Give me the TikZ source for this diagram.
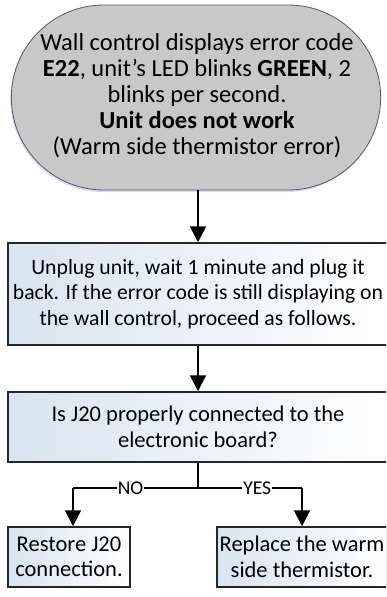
\documentclass[tikz,border=0pt]{standalone}
\usepackage{fontspec}
\setmainfont{Carlito}
\usetikzlibrary{shapes.misc, shadows, arrows.meta}
\definecolor{stadgray}{RGB}{200,200,200}
\definecolor{boxblue}{RGB}{216,228,241}

\begin{document}
\begin{tikzpicture}[x=1pt, y=-1pt, >={Triangle[width=16pt,length=16pt]},
  every node/.style={font=\fontsize{22.5}{25.5}\selectfont, align=center},
  startbox/.style={rounded rectangle, draw=black!65, line width=0.8pt, fill=stadgray,
    minimum width=376pt, minimum height=185pt,
    drop shadow={shadow xshift=-1pt, shadow yshift=-2pt, fill=blue!30!white, opacity=0.5}},
  stepbox/.style={rectangle, draw=black!85, line width=1.5pt, left color=boxblue, right color=white, inner sep=0pt},
  flow/.style={->, line width=2pt},
  branch/.style={line width=1.3pt},
  answer/.style={fill=white, inner sep=1pt, font=\fontsize{19.5}{21}\selectfont}]
  \useasboundingbox (0,0) rectangle (386,597);
  \clip (0,0) rectangle (386,597);
  % Start
  \node[startbox] (start) at (196,97.5) {};
  \node[font=\fontsize{24.5}{26}\selectfont] (starttext) at (197,96) {Wall control displays error code\\
    \textbf{E22}, unit's LED blinks \textbf{GREEN}, 2\\
    blinks per second.\\
    \textbf{Unit does not work}\\
    (Warm side thermistor error)};
  % Steps
  \node[stepbox, minimum width=380pt, minimum height=102pt, font=\fontsize{21.7}{25.5}\selectfont] (unplug) at (198,294)
    {Unplug unit, wait 1 minute and plug it\\
     back. If the error code is still displaying on\\
     the wall control, proceed as follows.};
  \node[stepbox, minimum width=380pt, minimum height=70pt] (check) at (198,427)
    {Is J20 properly connected to the\\ electronic board?};
  \node[stepbox, minimum width=122pt, minimum height=60pt] (restore) at (69,557)
    {Restore J20\\ connection.};
  \node[stepbox, minimum width=170pt, minimum height=60pt] (replace) at (302,557)
    {Replace the warm\\ side thermistor.};
  % Connectors
  \draw[flow] (unplug.north |- start.south) -- (unplug.north);
  \draw[flow] (unplug.south) -- (check.north);
  \coordinate (split) at (198,488);
  \coordinate (nocorner) at (73,488);
  \coordinate (yescorner) at (302,488);
  \draw[line width=2pt] (check.south) -- (split);
  \draw[branch] (split) -- node[answer, pos=0.54] {NO} (nocorner);
  \draw[branch] (split) -- node[answer, pos=0.57] {YES} (yescorner);
  \draw[flow] (nocorner) -- (nocorner |- restore.north);
  \draw[flow] (yescorner) -- (replace.north);
\end{tikzpicture}
\end{document}
